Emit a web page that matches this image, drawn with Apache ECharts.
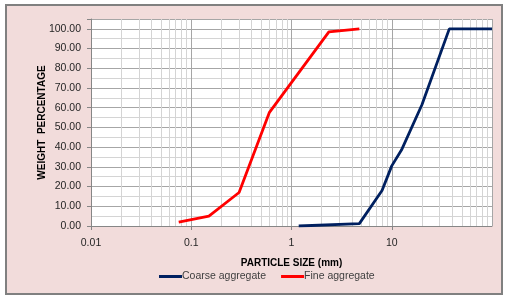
<!DOCTYPE html>
<html>
<head>
<meta charset="utf-8">
<script src="https://cdn.jsdelivr.net/npm/echarts@6/dist/echarts.min.js"></script>
<style>
html, body { margin: 0; padding: 0; background: #fff; }
#chart { width: 508px; height: 300px; }
</style>
</head>
<body>
<div id="chart"></div>
<script>
// particle size (mm) / weight percentage passing
var coarseSize = [1.18, 4.75, 8, 10, 12.5, 20, 37.5, 100];
var coarsePass = [0, 1.2, 18, 30.5, 38.5, 61.5, 100, 100];
var fineSize = [0.075, 0.15, 0.3, 0.6, 2.36, 4.75];
var finePass = [2, 5, 17, 57.5, 98.5, 100];

// log minor grid positions
var minorX = [0.02, 0.03, 0.04, 0.05, 0.06, 0.07, 0.08, 0.09,
	0.2, 0.3, 0.4, 0.5, 0.6, 0.7, 0.8, 0.9,
	2, 3, 4, 5, 6, 7, 8, 9,
	20, 30, 40, 50, 60, 70, 80, 90];

var xLabels = ['0.01', '0.1', '1', '10'];

function pairs(xs, ys) {
	var t = [];
	for (var i = 0; i < xs.length; i++) {
		t.push([xs[i], ys[i]]);
	}
	return t;
}

var fontFam = '"Liberation Sans", Arial, sans-serif';
var myChart = echarts.init(document.getElementById('chart'), null, { renderer: 'canvas' });

var option = {
	backgroundColor: '#fff',
	animation: false,
	graphic: [{
		type: 'rect',
		z: -10,
		shape: { x: 6, y: 5, width: 496, height: 289 },
		style: { fill: '#f2dcdb', stroke: '#808080', lineWidth: 2 }
	}],
	grid: {
		left: 91, top: 19, right: 16, bottom: 74,
		show: true,
		backgroundColor: '#fff',
		borderWidth: 0
	},
	legend: {
		left: 154,
		top: 266,
		itemWidth: 23,
		itemHeight: 3,
		itemGap: 15,
		icon: 'rect',
		textStyle: { fontFamily: fontFam, fontSize: 10.5, color: '#404040', padding: [0, 0, 0, -5] },
		data: ['Coarse aggregate', 'Fine aggregate']
	},
	xAxis: {
		type: 'log',
		logBase: 10,
		min: 0.01,
		max: 100,
		name: 'PARTICLE SIZE (mm)',
		nameLocation: 'middle',
		nameGap: 32,
		nameMoveOverlap: false,
		nameTextStyle: { fontFamily: fontFam, fontSize: 10, fontWeight: 'bold', color: '#000' },
		axisLine: { lineStyle: { color: '#868686' } },
		axisTick: { show: true, length: 4, lineStyle: { color: '#868686' } },
		axisLabel: {
			margin: 12,
			fontFamily: fontFam, fontSize: 10.5, color: '#262626',
			showMaxLabel: false,
			formatter: function (v) {
				var s = String(+v.toPrecision(3));
				return xLabels.indexOf(s) >= 0 ? s : '';
			}
		},
		splitLine: { show: true, lineStyle: { color: '#a6a6a6' } }
	},
	yAxis: {
		type: 'value',
		min: 0,
		max: 105,
		interval: 10,
		name: 'WEIGHT  PERCENTAGE',
		nameLocation: 'middle',
		nameGap: 44,
		nameMoveOverlap: false,
		nameTextStyle: { fontFamily: fontFam, fontSize: 10, fontWeight: 'bold', color: '#000' },
		axisLine: { show: true, lineStyle: { color: '#868686' } },
		axisTick: { show: true, length: 4, lineStyle: { color: '#868686' } },
		axisLabel: {
			margin: 10,
			fontFamily: fontFam, fontSize: 10.5, color: '#262626',
			formatter: function (v) {
				return v > 100 ? '' : v.toFixed(2);
			}
		},
		splitLine: { show: true, lineStyle: { color: '#a6a6a6' } },
		minorTick: { show: false, splitNumber: 2 },
		minorSplitLine: { show: true, lineStyle: { color: '#d4d4d4' } }
	},
	series: [{
		name: 'Coarse aggregate',
		type: 'line',
		color: '#002060',
		showSymbol: false,
		lineStyle: { width: 2.8, color: '#002060' },
		data: pairs(coarseSize, coarsePass),
		markLine: {
			silent: true,
			symbol: 'none',
			label: { show: false },
			lineStyle: { color: '#d4d4d4', type: 'solid', width: 1 },
			z: 0,
			data: minorX.map(function (v) { return { xAxis: v }; })
		},
		z: 3
	}, {
		name: 'Fine aggregate',
		type: 'line',
		color: '#ff0000',
		showSymbol: false,
		lineStyle: { width: 2.8, color: '#ff0000' },
		data: pairs(fineSize, finePass),
		z: 3
	}]
};
myChart.setOption(option);
window.addEventListener('resize', function () {
	myChart.resize();
});
</script>
</body>
</html>
